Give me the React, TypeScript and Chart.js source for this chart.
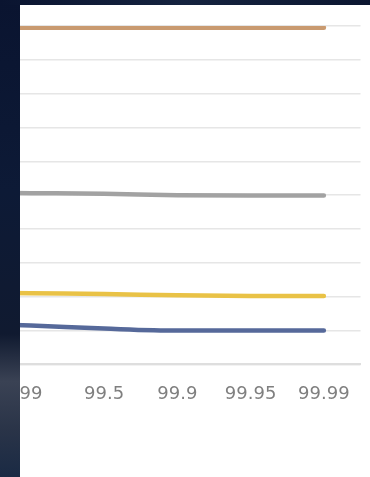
import React, { useEffect, useRef } from "react";
import { Chart, registerables } from "chart.js";

Chart.register(...registerables);

const categories = ["95", "99", "99.5", "99.9", "99.95", "99.99"];
const orangeSeries = [9.95, 9.95, 9.95, 9.95, 9.95, 9.95];
const graySeries = [5.08, 5.06, 5.04, 5.0, 4.99, 4.99];
const yellowSeries = [2.13, 2.1, 2.08, 2.04, 2.02, 2.02];
const blueSeries = [1.22, 1.15, 1.06, 1.0, 1.0, 1.0];

export default function App() {
  const ref = useRef<HTMLCanvasElement | null>(null);

  useEffect(() => {
    if (!ref.current) return;
    const mk = (data: number[], color: string) => ({
      data,
      borderColor: color,
      backgroundColor: color,
      borderWidth: 4.5,
      pointRadius: 0,
      tension: 0.4,
      cubicInterpolationMode: "monotone" as const,
      borderCapStyle: "round" as const,
      fill: false,
    });
    const chart = new Chart(ref.current, {
      type: "line",
      data: {
        labels: categories,
        datasets: [
          mk(orangeSeries, "#c99a70"),
          mk(graySeries, "#a2a2a2"),
          mk(yellowSeries, "#e9c246"),
          mk(blueSeries, "#56699a"),
        ],
      },
      options: {
        responsive: false,
        animation: false,
        layout: { padding: { left: 21, right: 9.5, top: 26, bottom: 53 } },
        plugins: { legend: { display: false }, tooltip: { enabled: false } },
        scales: {
          x: {
            offset: true,
            grid: { display: false, drawTicks: false },
            border: { display: true, color: "#dedede", width: 2 },
            ticks: {
              color: "#7f7f7f",
              padding: 19,
              font: { family: "DejaVu Sans", size: 18 },
              maxRotation: 0,
              autoSkip: false,
            },
          },
          y: {
            min: 0,
            max: 10,
            ticks: { display: false, stepSize: 1 },
            grid: { color: "#e6e6e6", lineWidth: 1.5, drawTicks: false },
            border: { display: false },
          },
        },
      },
    });
    return () => chart.destroy();
  }, []);

  return (
    <div
      style={{
        position: "fixed",
        left: 0,
        top: 0,
        width: 370,
        height: 477,
        overflow: "hidden",
        background: "#ffffff",
      }}
    >
      <canvas
        ref={ref}
        width={470}
        height={477}
        style={{ position: "absolute", left: -100, top: 0, width: 470, height: 477 }}
      />
      <div
        style={{
          position: "absolute",
          left: 0,
          top: 0,
          width: 20,
          height: 477,
          background:
            "linear-gradient(180deg, #0a1430 0%, #0d1a36 40%, #101a30 70%, #3a4254 80%, #2a3448 90%, #1a2a44 100%)",
        }}
      />
      <div
        style={{
          position: "absolute",
          left: 0,
          top: 0,
          width: 370,
          height: 5,
          background: "linear-gradient(90deg, #0a1430, #15233f 50%, #0b1630)",
        }}
      />
    </div>
  );
}
